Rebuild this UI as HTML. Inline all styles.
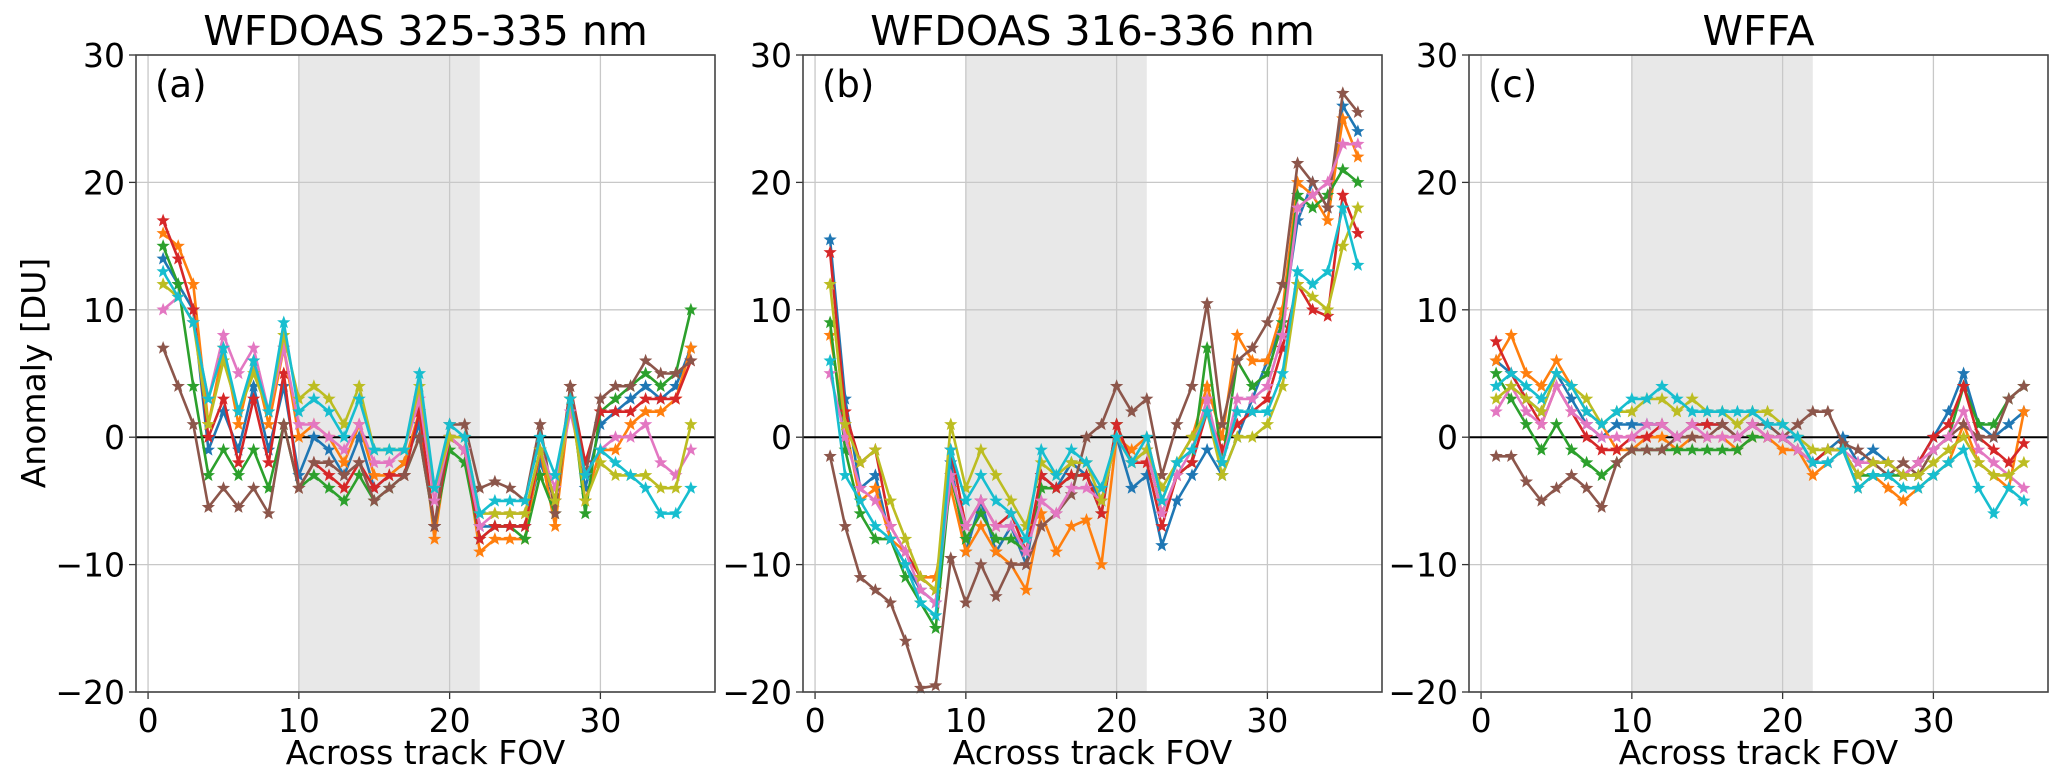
<!DOCTYPE html>
<html><head><meta charset="utf-8"><style>
html,body{margin:0;padding:0;background:#fff;}
svg{display:block;font-family:"DejaVu Sans","Liberation Sans",sans-serif;}
</style></head><body>
<svg id="chart" width="2067" height="783" viewBox="0 0 2067 783" xmlns="http://www.w3.org/2000/svg"></svg>
<script>
const fovs = [1,2,3,4,5,6,7,8,9,10,11,12,13,14,15,16,17,18,19,20,21,22,23,24,25,26,27,28,29,30,31,32,33,34,35,36];
const titles = ["WFDOAS 325-335 nm","WFDOAS 316-336 nm","WFFA"];
const panelLabels = ["(a)","(b)","(c)"];
const yTicks = [-20,-10,0,10,20,30];
const xTicks = [0,10,20,30];
const shadeRange = [10,22];
const colorsA = ["#1f77b4","#ff7f0e","#2ca02c","#d62728","#8c564b","#e377c2","#bcbd22","#17becf"];
const seriesA = [
[14,12,10,-1,2,-1,4,-1,4,-3,0,-1,-3,0,-4,-3,-2,1,-7,0,-1,-7,-7,-7,-7,-2,-5,3,-4,1,2,3,4,3,4,7],
[16,15,12,1,7,1,6,1,7,0,1,0,-2,1,-3,-3,-2,2,-8,0,-1,-9,-8,-8,-8,-1,-7,3,-5,-1,-1,1,2,2,3,7],
[15,12,4,-3,-1,-3,-1,-4,1,-4,-3,-4,-5,-3,-5,-4,-3,0,-7,-1,-2,-8,-7,-7,-8,-3,-6,4,-6,2,3,4,5,4,5,10],
[17,14,10,0,3,-2,3,-2,5,-4,-2,-3,-4,-2,-4,-3,-3,2,-7,0,-1,-8,-7,-7,-7,-1,-5,4,-2,2,2,2,3,3,3,6],
[7,4,1,-5.5,-4,-5.5,-4,-6,1,-4,-2,-2,-3,-2,-5,-4,-3,0,-7,1,1,-4,-3.5,-4,-5,1,-6,4,-3,3,4,4,6,5,5,6],
[10,11,9,3,8,5,7,2,7,1,1,0,-1,1,-2,-2,-1,3,-5,0,-1,-7,-6,-6,-6,-1,-4,2,-3,-1,0,0,1,-2,-3,-1],
[12,11,9,1,6,2,5,2,8,3,4,3,1,4,-1,-1,-1,4,-4,0,0,-6,-6,-6,-6,-1,-5,3,-5,-2,-3,-3,-3,-4,-4,1],
[13,11,9,3,7,2,6,2,9,2,3,2,0,3,-1,-1,-1,5,-4,1,0,-6,-5,-5,-5,0,-3,3,-3,-1,-2,-3,-4,-6,-6,-4]
];
const colorsB = ["#1f77b4","#ff7f0e","#2ca02c","#d62728","#8c564b","#e377c2","#bcbd22","#17becf"];
const seriesB = [
[15.5,3,-4,-3,-8,-10,-12,-13,-2,-9,-5,-9,-7,-10,-3,-4,-2,-3,-5,0,-4,-3,-8.5,-5,-3,-1,-3,0,3,6,9,17,20,18,26,24],
[8,1,-5,-4,-8,-9,-11,-11,-4,-9,-7,-9,-10,-12,-6,-9,-7,-6.5,-10,0,-1,0,-5,-2,0,4,0,8,6,6,10,20,19,17,25,22],
[9,-1,-6,-8,-8,-11,-13,-15,-3,-8,-6,-8,-8,-9,-4,-4,-3,-3,-6,1,-2,-1,-6,-3,-2,7,-2,6,4,5,9,19,18,19,21,20],
[14.5,2,-2,-1,-7,-9,-11,-12,-1,-7,-5,-7,-6,-9,-3,-4,-3,-3,-6,1,-2,-2,-7,-3,-2,2,-1,1,2,3,7,12,10,9.5,19,16],
[-1.5,-7,-11,-12,-13,-16,-19.7,-19.5,-9.5,-13,-10,-12.5,-10,-10,-7,-6,-4.5,0,1,4,2,3,-3,1,4,10.5,1,6,7,9,12,21.5,20,18,27,25.5],
[5,0,-4,-5,-7,-9,-12,-13,-3,-7,-5,-7,-7,-9,-5,-6,-4,-4,-5,0,-2,-1,-6,-3,-1,3,-2,3,3,4,8,18,19,20,23,23],
[12,1,-2,-1,-5,-8,-11,-12,1,-4,-1,-3,-5,-7,-2,-3,-2,-2,-5,0,-2,-1,-4,-2,0,2,-3,0,0,1,4,12,11,10,15,18],
[6,-3,-5,-7,-8,-10,-13,-14,-1,-5,-3,-5,-6,-8,-1,-3,-1,-2,-4,0,-2,0,-5,-2,-1,2,-2,2,2,2,5,13,12,13,18,13.5]
];
const colorsC = ["#1f77b4","#ff7f0e","#2ca02c","#d62728","#8c564b","#e377c2","#bcbd22","#17becf"];
const seriesC = [
[6,5,3,2,5,3,1,0,1,1,1,1,0,1,1,1,0,1,1,0,0,-2,-1,0,-2,-1,-2,-3,-2,0,2,5,1,0,1,2],
[6,8,5,4,6,4,2,1,-1,-1,0,0,-1,0,0,0,-1,0,0,-1,-1,-3,-2,-1,-4,-3,-4,-5,-4,-3,-2,1,-2,-3,-4,2],
[5,3,1,-1,1,-1,-2,-3,-2,-1,-1,-1,-1,-1,-1,-1,-1,0,0,0,-1,-2,-1,-1,-3,-3,-3,-3,-3,-1,0,4,1,1,3,4],
[7.5,5,3,1,4,2,0,-1,-1,0,0,1,0,1,1,1,0,1,0,0,-1,-2,-1,-1,-3,-2,-2,-3,-2,0,1,4,0,-1,-2,-0.5],
[-1.5,-1.5,-3.5,-5,-4,-3,-4,-5.5,-2,-1,-1,-1,0,0,0,1,0,1,1,0,1,2,2,-0.5,-1,-2,-3,-2,-3,-1,0,1,0,0,3,4],
[2,4,2,1,4,2,1,0,0,0,1,1,0,1,0,0,0,1,0,0,-1,-2,-2,-1,-2,-2,-2,-3,-2,-1,0,2,-1,-2,-3,-4],
[3,4,3,2,5,4,3,1,2,2,3,3,2,3,2,2,1,2,2,1,0,-1,-1,-1,-3,-2,-2,-3,-3,-2,-1,0,-2,-3,-3,-2],
[4,5,4,3,5,4,2,1,2,3,3,4,3,2,2,2,2,2,1,1,0,-2,-2,-1,-4,-3,-3,-4,-4,-3,-2,-1,-4,-6,-4,-5]
];

const NS="http://www.w3.org/2000/svg";
const svg=document.getElementById('chart');
function mk(tag,attrs,parent){const e=document.createElementNS(NS,tag);for(const k in attrs)e.setAttribute(k,attrs[k]);(parent||svg).appendChild(e);return e;}
const panelLefts=[136,803,1469];
const W=579, TOP=55, BOT=692;
const XMIN=-0.8, XMAX=37.6, YMIN=-20, YMAX=30;
const allSeries=[seriesA,seriesB,seriesC];
const allColors=[colorsA,colorsB,colorsC];
function starPath(cx,cy,r){let d='';for(let i=0;i<10;i++){const rr=i%2?r*0.42:r;const a=-Math.PI/2+i*Math.PI/5;d+=(i?'L':'M')+(cx+rr*Math.cos(a)).toFixed(1)+','+(cy+rr*Math.sin(a)).toFixed(1);}return d+'Z';}
const fmt=t=>t<0?'\u2212'+Math.abs(t):String(t);

for(let p=0;p<3;p++){
  const L=panelLefts[p];
  const xs=v=>L+(v-XMIN)/(XMAX-XMIN)*W;
  const ys=v=>BOT-(v-YMIN)/(YMAX-YMIN)*(BOT-TOP);
  const g=mk('g',{});
  
  
  const sh=mk('rect',{x:xs(shadeRange[0]),y:TOP,width:xs(shadeRange[1])-xs(shadeRange[0]),height:BOT-TOP,fill:'#e8e8e8'},g);
  
  
  xTicks.forEach(t=>{
    const gl=mk('line',{x1:xs(t),x2:xs(t),y1:TOP,y2:BOT,stroke:'#c8c8c8','stroke-width':1.3},g);
    
    
    mk('line',{x1:xs(t),x2:xs(t),y1:BOT,y2:BOT+7,stroke:'#333','stroke-width':1.3},g);
    const tx=mk('text',{x:xs(t),y:BOT+40,'font-size':33,'text-anchor':'middle',fill:'#000'},g);tx.textContent=fmt(t);
    
    
  });
  yTicks.forEach(t=>{
    const gl=mk('line',{x1:L,x2:L+W,y1:ys(t),y2:ys(t),stroke:'#c8c8c8','stroke-width':1.3},g);
    
    
    mk('line',{x1:L-7,x2:L,y1:ys(t),y2:ys(t),stroke:'#333','stroke-width':1.3},g);
    const tx=mk('text',{x:L-11,y:ys(t)+12,'font-size':33,'text-anchor':'end',fill:'#000'},g);tx.textContent=fmt(t);
    
    
  });
  const zl=mk('line',{x1:L,x2:L+W,y1:ys(0),y2:ys(0),stroke:'#000','stroke-width':2},g);
  
  
  const S=allSeries[p], C=allColors[p];
  S.forEach((vals,si)=>{
    const sg=mk('g',{},g);
    
    
    const pts=vals.map((v,i)=>xs(fovs[i]).toFixed(1)+','+ys(v).toFixed(1)).join(' ');
    mk('polyline',{points:pts,fill:'none',stroke:C[si],'stroke-width':2.6,'stroke-linejoin':'round'},sg);
    vals.forEach((v,i)=>{
      const m=mk('path',{d:starPath(xs(fovs[i]),ys(v),7),fill:C[si]},sg);
      
      
    });
  });
  const fr=mk('rect',{x:L,y:TOP,width:W,height:BOT-TOP,fill:'none',stroke:'#444','stroke-width':1.6},g);
  
  
  const pl=mk('text',{x:L+19,y:TOP+42,'font-size':37,fill:'#000'},g);pl.textContent=panelLabels[p];
  
  
  const ti=mk('text',{x:L+W/2,y:45,'font-size':41,'text-anchor':'middle',fill:'#000'},g);ti.textContent=titles[p];
  
  
  const xl=mk('text',{x:L+W/2,y:764,'font-size':33,'text-anchor':'middle',fill:'#000'},g);xl.textContent='Across track FOV';
  
  
}
const yl=mk('text',{x:0,y:0,'font-size':33,'text-anchor':'middle',fill:'#000',transform:'translate(45,373) rotate(-90)'});
yl.textContent='Anomaly [DU]';


</script>
</body></html>
